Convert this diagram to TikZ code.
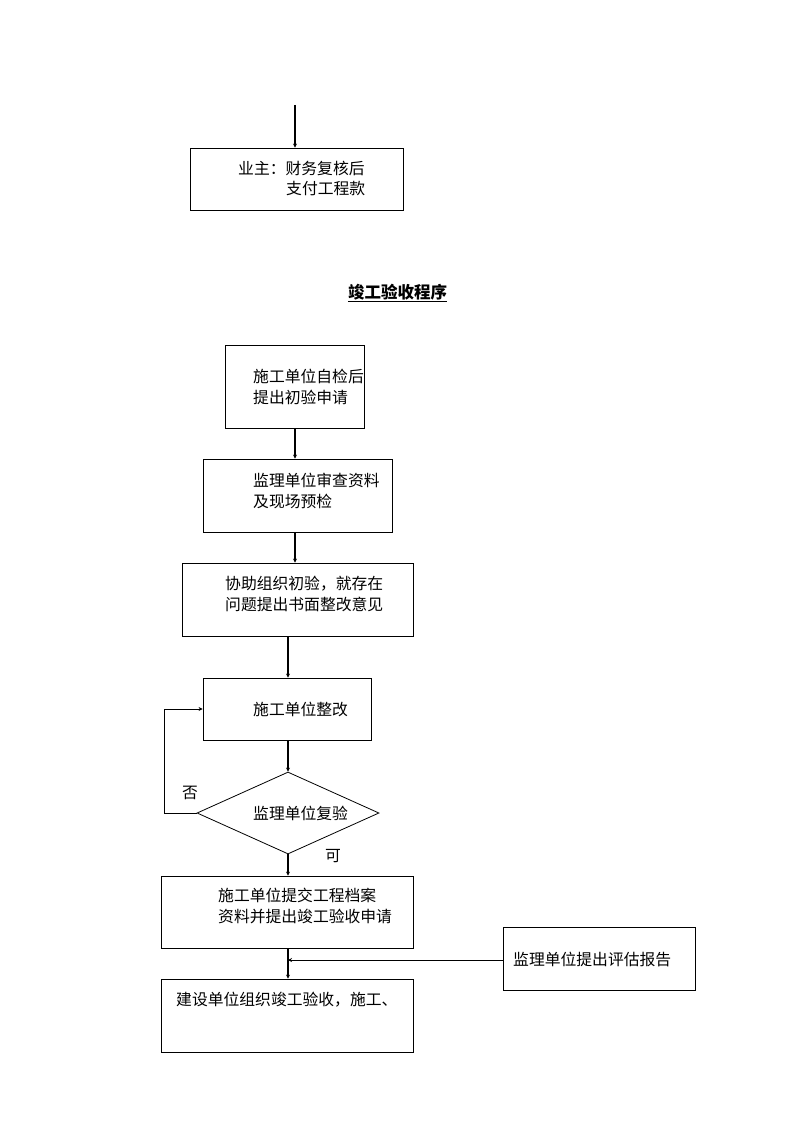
\documentclass[tikz,border=0pt]{standalone}
\usepackage{fontspec}
\setmainfont{Noto Sans CJK SC}
\usetikzlibrary{arrows.meta,shapes.geometric}

\tikzset{
  box/.style={draw, line width=0.8pt, inner sep=0pt},
  txt/.style={anchor=west, inner sep=0pt, align=left,
    font=\fontsize{15.8}{20.5}\selectfont},
  flow/.style={line width=1.6pt, -{Stealth[length=4pt,width=4pt]}},
  side/.style={line width=0.8pt, -{Stealth[length=4pt,width=4pt]}}
}

\begin{document}
\begin{tikzpicture}[x=1pt, y=-1pt]
    \useasboundingbox (0, 0) rectangle (794, 1123);

    % Payment
    \coordinate (in) at (295, 105);
    \node [box, minimum width=213pt, minimum height=62pt] (pay) at (296.5, 179) {};
    \node [txt] (payA) at (238, 168) {业主：财务复核后};
    \node [txt] (payB) at (286, 189) {支付工程款};
    \draw [flow] (in) -- (in |- pay.north);

    % Title
    \node [font=\fontsize{16.5}{20}\selectfont\bfseries, inner sep=0pt] (title) at (397.5, 292) {竣工验收程序};
    \draw [line width=1pt] ([yshift=-1.5pt]title.south west) -- ([yshift=-1.5pt]title.south east);

    % Steps
    \node [box, minimum width=139pt, minimum height=83pt] (s1) at (294.5, 386.5) {};
    \node [txt] (t1) at (253, 387) {施工单位自检后\\提出初验申请};

    \node [box, minimum width=189pt, minimum height=73pt] (s2) at (297.5, 495.5) {};
    \node [txt] (t2) at (253, 491) {监理单位审查资料\\及现场预检};

    \node [box, minimum width=231pt, minimum height=73pt] (s3) at (297.5, 599.5) {};
    \node [txt] (t3) at (225, 594) {协助组织初验，就存在\\问题提出书面整改意见};

    \node [box, minimum width=168pt, minimum height=62pt] (s4) at (287, 709) {};
    \node [txt] (t4) at (253, 709) {施工单位整改};

    \node [box, diamond, aspect=2.2, minimum width=182pt, minimum height=82pt] (chk) at (288, 813) {};
    \node [txt] (tc) at (253, 813) {监理单位复验};
    \node [txt, anchor=center] (no) at (190, 793) {否};
    \node [txt, anchor=center] (yes) at (333, 856) {可};

    \node [box, minimum width=252pt, minimum height=72pt] (s5) at (287, 912) {};
    \node [txt] (t5) at (218, 906) {施工单位提交工程档案\\资料并提出竣工验收申请};

    \node [box, minimum width=192pt, minimum height=63pt] (rep) at (599, 958.5) {};
    \node [txt] (tr) at (513, 959) {监理单位提出评估报告};

    \node [box, minimum width=252pt, minimum height=73pt] (s6) at (287, 1015.5) {};
    \node [txt] (t6) at (176, 1000) {建设单位组织竣工验收，施工、};

    % Connectors
    \draw [flow] ([xshift=0.5pt]s1.south) -- ([xshift=0.5pt]s1.south |- s2.north);
    \draw [flow] ([xshift=0.5pt]s1.south |- s2.south) -- ([xshift=0.5pt]s1.south |- s3.north);
    \draw [flow] (chk.north |- s3.south) -- (chk.north |- s4.north);
    \draw [flow] (chk.north |- s4.south) -- (chk.north);
    \draw [flow] (chk.south) -- (chk.south |- s5.north);
    \draw [flow] (chk.south |- s5.south) -- (chk.south |- s6.north);
    \coordinate (join) at (288, 960);
    \draw [side] (rep.west |- join) -- (join);
    \draw [side] (chk.west) -- (164, 813) |- (s4.west);
\end{tikzpicture}
\end{document}
